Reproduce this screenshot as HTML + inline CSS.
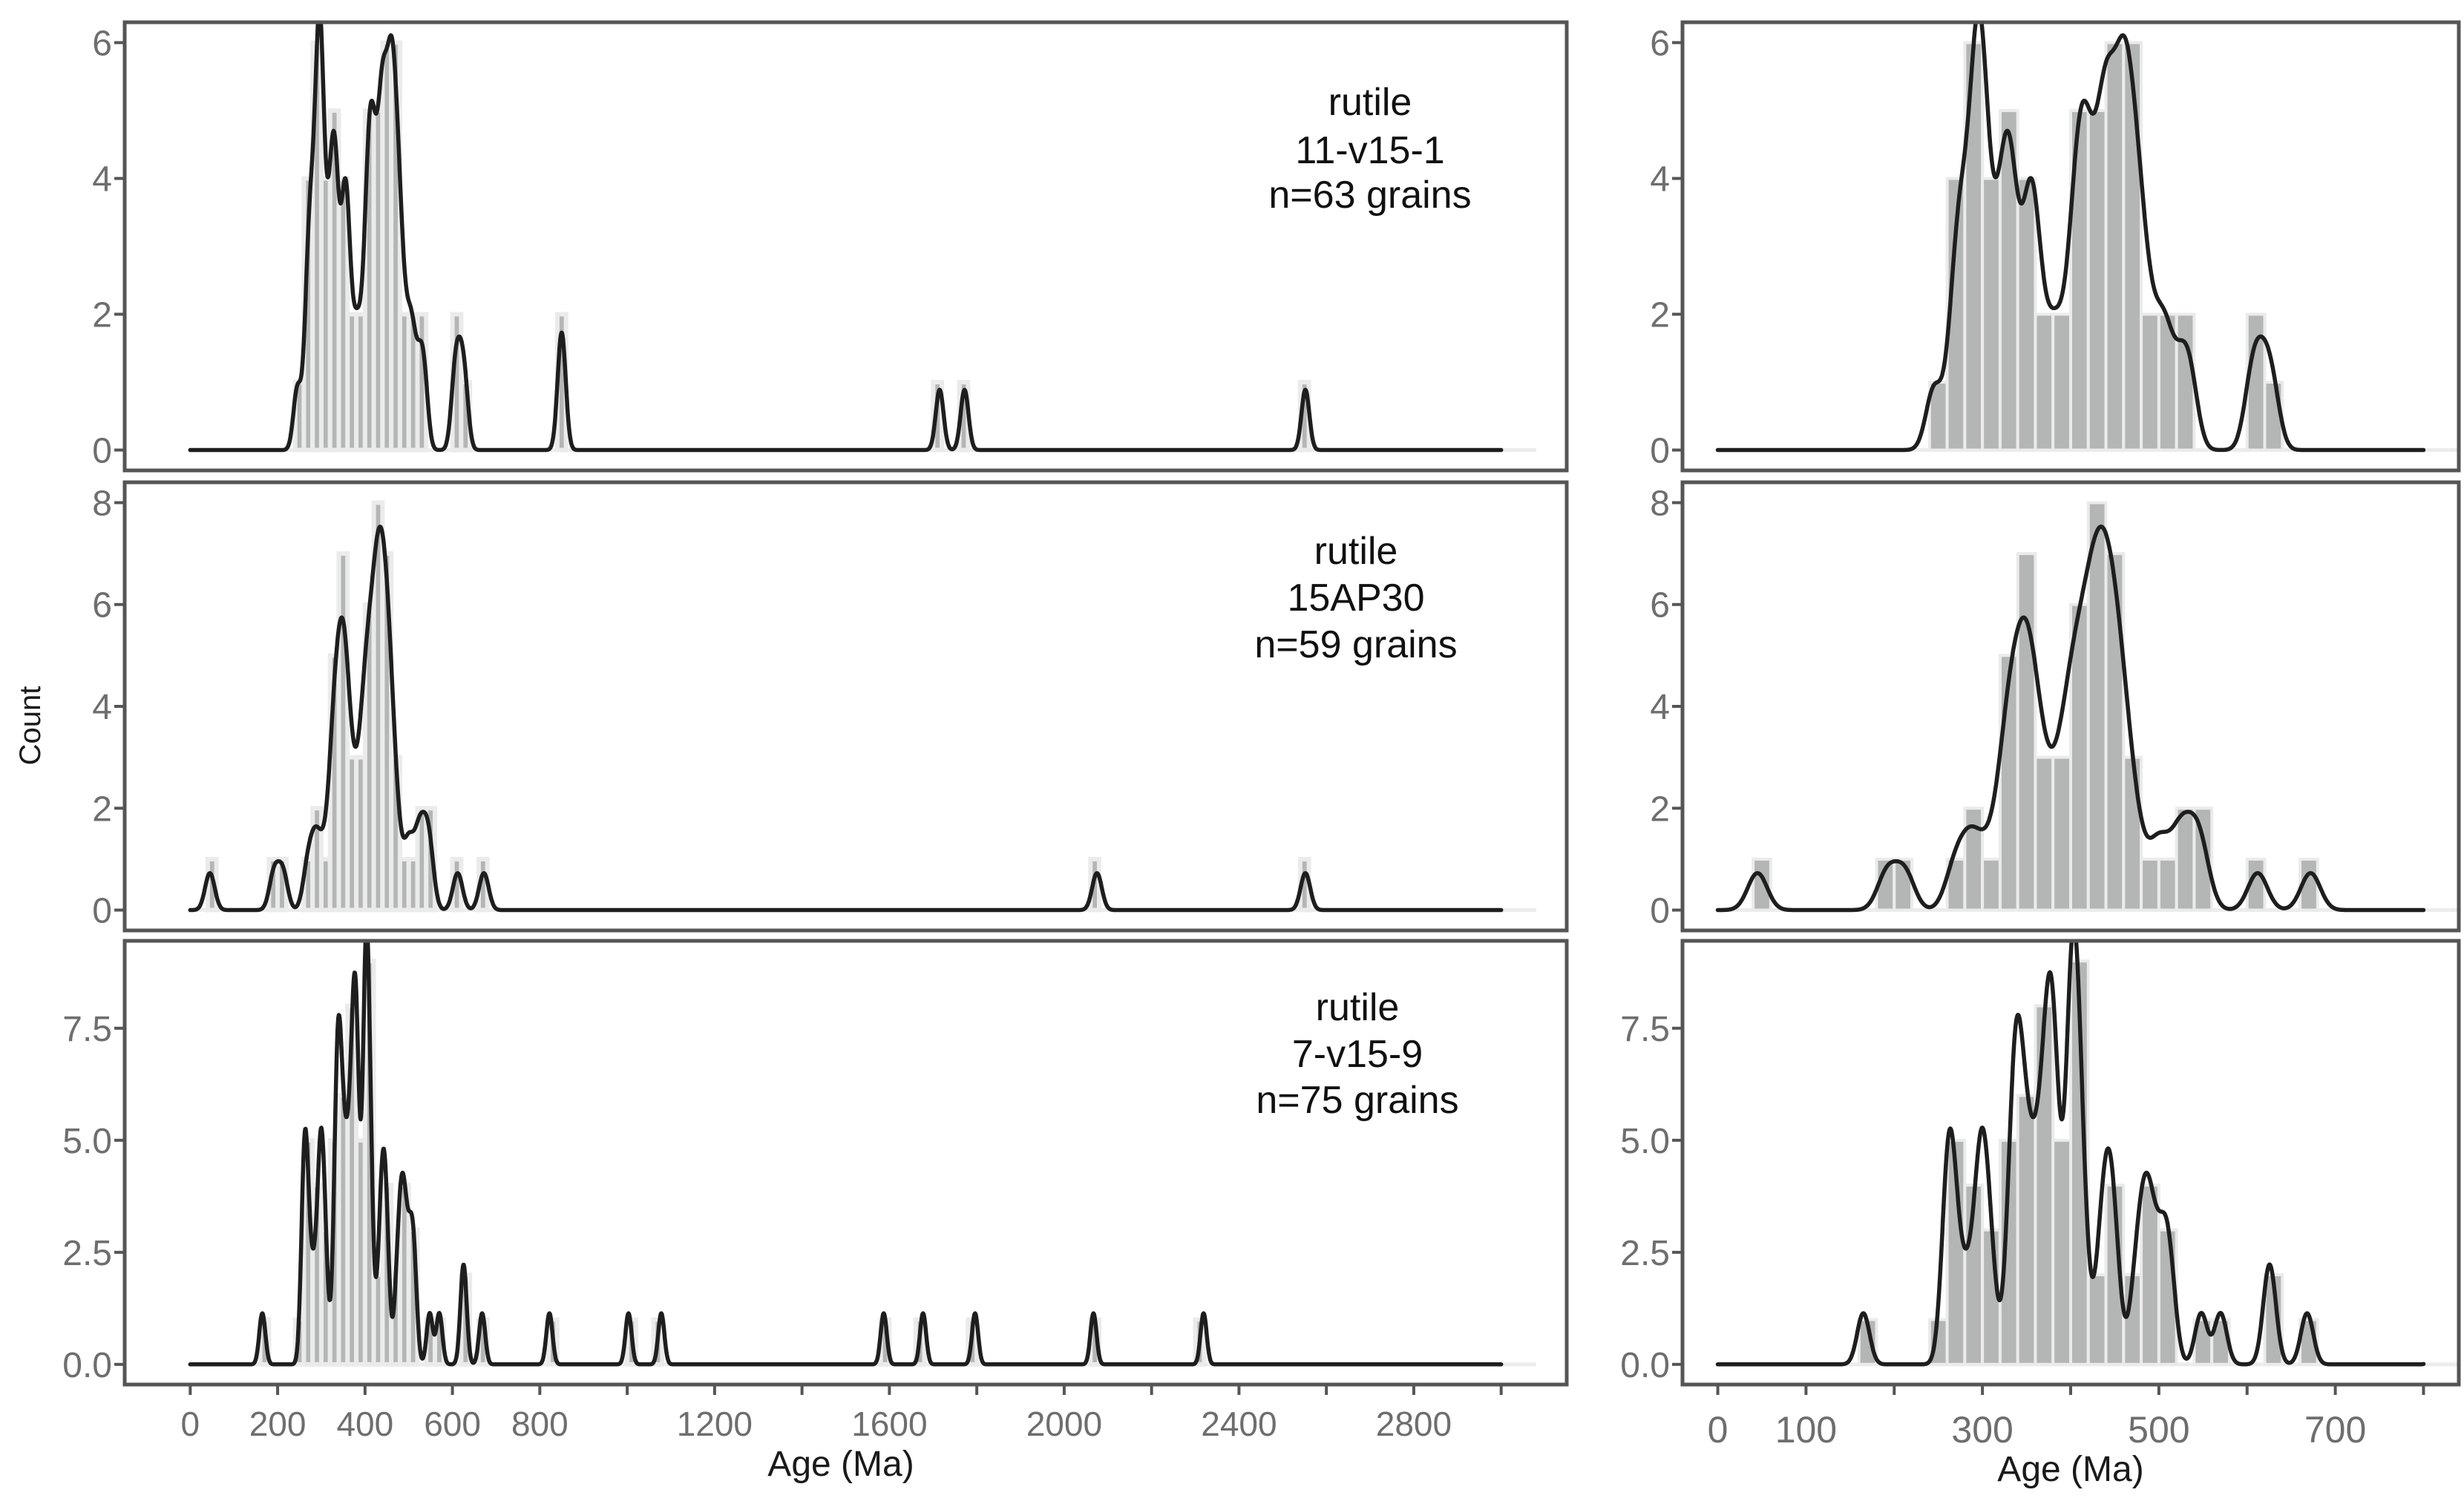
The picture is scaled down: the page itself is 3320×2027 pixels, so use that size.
<!DOCTYPE html>
<html><head><meta charset="utf-8">
<style>
html,body{margin:0;padding:0;background:#fff;}
svg{display:block;font-family:"Liberation Sans",Arial,sans-serif;}
</style></head>
<body>
<svg id="chart" width="3320" height="2027" viewBox="0 0 3320 2027" xmlns="http://www.w3.org/2000/svg"></svg>
<script>
// ---- data: grain ages (Ma) per sample ----
const sampleNames = ["11-v15-1", "15AP30", "7-v15-9"];
const sampleCounts = [63, 59, 75];
const ages1 = [245,266,272,276,278,288,291,293,295,297,299,302,304,314,319,325,328,330,334,338,350,353,356,359,366,378,386,398,404,408,411,414,418,421,426,432,436,438,441,444,448,452,456,459,461,464,467,471,475,479,484,493,503,511,525,536,605,616,628,848,852,1715,1772,2552];
const ages2 = [45,192,212,268,282,292,306,321,325,329,333,337,341,344,347,350,353,356,359,364,370,378,386,392,396,401,404,407,410,414,418,421,423,426,428,431,434,436,438,441,443,446,449,452,455,458,462,468,476,495,505,522,528,542,548,612,672,2075,2552];
const ages3 = [165,258,260,263,265,268,276,285,293,298,299,301,306,311,330,334,336,338,339,341,344,347,350,354,358,362,366,369,372,374,376,378,379,381,383,385,397,399,400,401,403,404,405,407,409,412,416,432,437,441,444,447,452,472,479,483,487,491,497,504,509,514,548,570,624,627,668,822,1003,1078,1587,1677,1796,2067,2319];
const bandwidths = [9, 11, 7];
const yMaxes = [6, 8, 9];
const yTicks1 = [0, 2, 4, 6];
const yTicks2 = [0, 2, 4, 6, 8];
const yTicks3 = [0, 2.5, 5, 7.5];
const yTickLabels3 = ["0.0", "2.5", "5.0", "7.5"];
const xTicksLeft = [0,200,400,600,800,1000,1200,1400,1600,1800,2000,2200,2400,2600,2800,3000];
const xLabelsLeft = [0,200,400,600,800,1200,1600,2000,2400,2800];
const xTicksRight = [0,100,200,300,400,500,600,700,800];
const xLabelsRight = [0,100,300,500,700];
const binWidth = 20;

const NS = "http://www.w3.org/2000/svg";
const svg = document.getElementById("chart");
function mk(tag, attrs, parent){
  const e = document.createElementNS(NS, tag);
  for (const k in attrs) e.setAttribute(k, attrs[k]);
  (parent || svg).appendChild(e);
  return e;
}
const panelsY = [[30,634],[650,1254],[1268,1866]];
const leftX = [168, 2111], rightX = [2267, 3313];
const allAges = [ages1, ages2, ages3];
const allYTicks = [yTicks1, yTicks2, yTicks3];
const annot = [{x:1846, b:[125,190,250]}, {x:1827, b:[110,173,236]}, {x:1829, b:[107,170,232]}];

function kde(ages, bw, x){
  let s = 0;
  for (const a of ages){ const z = (x - a) / bw; s += Math.exp(-0.5*z*z); }
  return s * binWidth / (bw * Math.sqrt(2*Math.PI));
}

for (let p = 0; p < 3; p++){
  const ages = allAges[p], bw = bandwidths[p], ymax = yMaxes[p];
  const [py0, py1] = panelsY[p];
  const Y = v => py1 - (v + 0.05*ymax) / (1.1*ymax) * (py1 - py0);
  for (let side = 0; side < 2; side++){
    const [px0, px1] = side === 0 ? leftX : rightX;
    const xmin = side === 0 ? -150 : -40, xmax = side === 0 ? 3150 : 840;
    const dataMax = side === 0 ? 3000 : 800;
    const X = v => px0 + (v - xmin) / (xmax - xmin) * (px1 - px0);
    const g = mk("g", {});
    
    
    const clipId = "c" + p + side;
    const cp = mk("clipPath", {id: clipId}, g);
    mk("rect", {x: px0, y: py0, width: px1-px0, height: py1-py0}, cp);
    const inner = mk("g", {"clip-path": "url(#" + clipId + ")"}, g);
    const bl = mk("line", {x1: X(0), x2: X(side === 0 ? 3080 : 840), y1: Y(0), y2: Y(0), stroke: "#ececec", "stroke-width": 5}, inner);
    
    
    const counts = {};
    for (const a of ages){ if (a < dataMax){ const b = Math.floor(a / binWidth); counts[b] = (counts[b] || 0) + 1; } }
    for (const b in counts){
      const x0 = X(b*binWidth), x1 = X(b*binWidth + binWidth);
      const r = mk("rect", {x: x0, y: Y(counts[b]), width: x1-x0, height: Y(0)-Y(counts[b]), fill: "#b4b6b5", stroke: "#ebebeb", "stroke-width": side === 0 ? 6 : 4}, inner);
      
      
    }
    let d = "";
    const step = side === 0 ? 1 : 0.5;
    for (let x = 0; x <= dataMax; x += step){
      d += (x === 0 ? "M" : "L") + X(x).toFixed(1) + "," + Y(kde(ages, bw, x)).toFixed(1);
    }
    const path = mk("path", {d: d, fill: "none", stroke: "#1e1e1e", "stroke-width": 5.5, "stroke-linejoin": "round", "stroke-linecap": "round"}, inner);
    
    
    const fr = mk("rect", {x: px0, y: py0, width: px1-px0, height: py1-py0, fill: "none", stroke: "#555", "stroke-width": 5}, g);
    
    
    const yt = allYTicks[p];
    yt.forEach((v, i) => {
      mk("line", {x1: px0-14, x2: px0, y1: Y(v), y2: Y(v), stroke: "#555", "stroke-width": 4}, g);
      const t = mk("text", {x: px0-17, y: Y(v)+17, "text-anchor": "end", "font-size": 48, fill: "#6e6e6e"}, g);
      t.textContent = p === 2 ? yTickLabels3[i] : String(v);
      
      
    });
    if (side === 0){
      const lines = ["rutile", sampleNames[p], "n=" + sampleCounts[p] + " grains"];
      lines.forEach((s, i) => {
        const t = mk("text", {x: annot[p].x, y: py0 + annot[p].b[i], "text-anchor": "middle", "font-size": 52, fill: "#111"}, g);
        t.textContent = s;
        
        
      });
    }
    if (p === 2){
      const ticks = side === 0 ? xTicksLeft : xTicksRight;
      const labels = side === 0 ? xLabelsLeft : xLabelsRight;
      ticks.forEach(v => mk("line", {x1: X(v), x2: X(v), y1: py1, y2: py1+14, stroke: "#555", "stroke-width": 4}, g));
      labels.forEach(v => {
        const t = mk("text", {x: X(v), y: side === 0 ? 1935 : 1944, "text-anchor": "middle", "font-size": side === 0 ? 46 : 50, fill: "#6e6e6e"}, g);
        t.textContent = String(v);
        
        
      });
      const at = mk("text", {x: side === 0 ? 1133 : 2790, y: side === 0 ? 1989 : 1996, "text-anchor": "middle", "font-size": 48, fill: "#1a1a1a"}, g);
      at.textContent = "Age (Ma)";
      
      
    }
  }
}
const yl = mk("text", {x: 0, y: 0, transform: "translate(54,978) rotate(-90)", "text-anchor": "middle", "font-size": 40, fill: "#1a1a1a"});
yl.textContent = "Count";


</script>
</body></html>
